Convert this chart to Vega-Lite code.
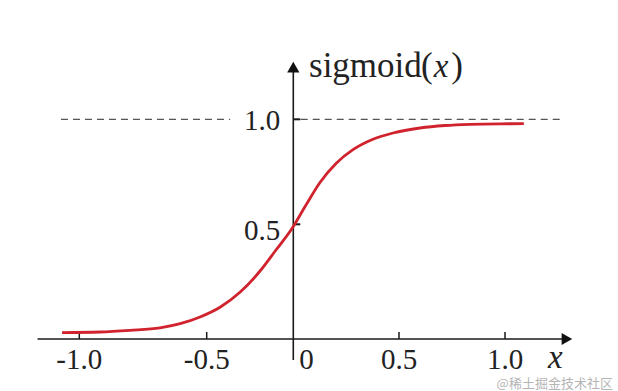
{
  "$schema": "https://vega.github.io/schema/vega-lite/v6.json",
  "width": 618,
  "height": 391,
  "autosize": {"type": "none"},
  "padding": 0,
  "background": "white",
  "config": {"view": {"stroke": null}},
  "datasets": {
    "curve": [
      {"x": -1.068, "y": 0.0279},
      {"x": -0.919, "y": 0.0305},
      {"x": -0.801, "y": 0.0379},
      {"x": -0.683, "y": 0.0488},
      {"x": -0.604, "y": 0.0667},
      {"x": -0.526, "y": 0.0959},
      {"x": -0.423, "y": 0.1382},
      {"x": -0.308, "y": 0.2036},
      {"x": -0.192, "y": 0.2964},
      {"x": -0.1, "y": 0.388},
      {"x": -0.0075, "y": 0.4817},
      {"x": 0.06, "y": 0.592},
      {"x": 0.1263, "y": 0.699},
      {"x": 0.202, "y": 0.7895},
      {"x": 0.2824, "y": 0.8552},
      {"x": 0.377, "y": 0.9048},
      {"x": 0.4716, "y": 0.9348},
      {"x": 0.599, "y": 0.9586},
      {"x": 0.717, "y": 0.9705},
      {"x": 0.835, "y": 0.9762},
      {"x": 0.976, "y": 0.9786},
      {"x": 1.089, "y": 0.979}
    ],
    "dashed": [
      {"x1": -1.072, "x2": -0.365, "y": 1},
      {"x1": 0.035, "x2": 1.274, "y": 1}
    ],
    "axes": [
      {"x1": -1.164, "x2": 1.292, "y1": 0, "y2": 0},
      {"x1": 0, "x2": 0, "y1": -0.0915, "y2": 1.2486}
    ],
    "arrows": [
      {"x": 1.292, "y": 0, "dir": "right"},
      {"x": 0, "y": 1.2486, "dir": "up"}
    ],
    "xticks": [{"v": -1}, {"v": -0.5}, {"v": 0.5}, {"v": 1}],
    "yticks": [{"v": 0.5}, {"v": 1}],
    "xlabels": [
      {"v": -1, "label": "-1.0"},
      {"v": -0.5, "label": "-0.5"},
      {"v": 0.5, "label": "0.5"},
      {"v": 1, "label": "1.0"}
    ],
    "zerolabel": [{"v": 0, "label": "0"}],
    "ylabel1": [{"v": 1, "label": "1.0"}],
    "ylabel05": [{"v": 0.5, "label": "0.5"}],
    "roman": [
      {"x": 0.0743, "y": 1.2, "t": "sigmoid"},
      {"x": 0.604, "y": 1.2, "t": "("},
      {"x": 0.746, "y": 1.2, "t": ")"}
    ],
    "italic": [
      {"x": 0.664, "y": 1.2, "t": "x"},
      {"x": 1.203, "y": -0.128, "t": "x"}
    ],
    "watermark": [{"x": 1.509, "y": -0.2136, "t": "@稀土掘金技术社区"}]
  },
  "layer": [
    {
      "data": {"name": "dashed"},
      "mark": {"type": "rule", "color": "#555555", "strokeWidth": 1.3, "strokeDash": [7, 5]},
      "encoding": {
        "x": {"field": "x1", "type": "quantitative", "scale": {"domain": [-1, -0.5, 0, 0.5, 1], "range": [79.3, 206.7, 293.3, 399, 505], "zero": false, "nice": false}, "axis": null},
        "x2": {"field": "x2"},
        "y": {"field": "y", "type": "quantitative", "scale": {"domain": [0, 0.5, 1], "range": [339, 224.3, 119.3], "zero": false, "nice": false}, "axis": null}
      }
    },
    {
      "data": {"name": "axes"},
      "mark": {"type": "rule", "color": "#1a1a1a", "strokeWidth": 1.6},
      "encoding": {
        "x": {"field": "x1", "type": "quantitative", "scale": {"domain": [-1, -0.5, 0, 0.5, 1], "range": [79.3, 206.7, 293.3, 399, 505], "zero": false, "nice": false}, "axis": null},
        "x2": {"field": "x2"},
        "y": {"field": "y1", "type": "quantitative", "scale": {"domain": [0, 0.5, 1], "range": [339, 224.3, 119.3], "zero": false, "nice": false}, "axis": null},
        "y2": {"field": "y2"}
      }
    },
    {
      "data": {"name": "arrows"},
      "mark": {"type": "point", "filled": true, "color": "#111111", "opacity": 1, "size": 150},
      "encoding": {
        "x": {"field": "x", "type": "quantitative", "scale": {"domain": [-1, -0.5, 0, 0.5, 1], "range": [79.3, 206.7, 293.3, 399, 505], "zero": false, "nice": false}, "axis": null},
        "y": {"field": "y", "type": "quantitative", "scale": {"domain": [0, 0.5, 1], "range": [339, 224.3, 119.3], "zero": false, "nice": false}, "axis": null},
        "shape": {"field": "dir", "type": "nominal", "scale": {"domain": ["right", "up"], "range": ["triangle-right", "triangle-up"]}, "legend": null}
      }
    },
    {
      "data": {"name": "xticks"},
      "mark": {"type": "tick", "orient": "vertical", "size": 7, "thickness": 1.5, "color": "#1a1a1a", "opacity": 1, "yOffset": -3.5},
      "encoding": {
        "x": {"field": "v", "type": "quantitative", "scale": {"domain": [-1, -0.5, 0, 0.5, 1], "range": [79.3, 206.7, 293.3, 399, 505], "zero": false, "nice": false}, "axis": null},
        "y": {"datum": 0, "type": "quantitative", "scale": {"domain": [0, 0.5, 1], "range": [339, 224.3, 119.3], "zero": false, "nice": false}, "axis": null}
      }
    },
    {
      "data": {"name": "yticks"},
      "mark": {"type": "tick", "orient": "horizontal", "size": 7, "thickness": 2, "color": "#1a1a1a", "opacity": 1, "xOffset": 3.5},
      "encoding": {
        "x": {"datum": 0, "type": "quantitative", "scale": {"domain": [-1, -0.5, 0, 0.5, 1], "range": [79.3, 206.7, 293.3, 399, 505], "zero": false, "nice": false}, "axis": null},
        "y": {"field": "v", "type": "quantitative", "scale": {"domain": [0, 0.5, 1], "range": [339, 224.3, 119.3], "zero": false, "nice": false}, "axis": null}
      }
    },
    {
      "data": {"name": "curve"},
      "mark": {"type": "line", "color": "#d1232d", "strokeWidth": 2.8, "interpolate": "monotone"},
      "encoding": {
        "x": {"field": "x", "type": "quantitative", "scale": {"domain": [-1, -0.5, 0, 0.5, 1], "range": [79.3, 206.7, 293.3, 399, 505], "zero": false, "nice": false}, "axis": null},
        "y": {"field": "y", "type": "quantitative", "scale": {"domain": [0, 0.5, 1], "range": [339, 224.3, 119.3], "zero": false, "nice": false}, "axis": null}
      }
    },
    {
      "data": {"name": "xlabels"},
      "mark": {"type": "text", "font": "Liberation Serif", "fontSize": 29, "color": "#222222", "align": "center", "baseline": "alphabetic", "dy": 30},
      "encoding": {
        "x": {"field": "v", "type": "quantitative", "scale": {"domain": [-1, -0.5, 0, 0.5, 1], "range": [79.3, 206.7, 293.3, 399, 505], "zero": false, "nice": false}, "axis": null},
        "y": {"datum": 0, "type": "quantitative", "scale": {"domain": [0, 0.5, 1], "range": [339, 224.3, 119.3], "zero": false, "nice": false}, "axis": null},
        "text": {"field": "label"}
      }
    },
    {
      "data": {"name": "zerolabel"},
      "mark": {"type": "text", "font": "Liberation Serif", "fontSize": 29, "color": "#222222", "align": "left", "baseline": "alphabetic", "dy": 30, "dx": 6},
      "encoding": {
        "x": {"field": "v", "type": "quantitative", "scale": {"domain": [-1, -0.5, 0, 0.5, 1], "range": [79.3, 206.7, 293.3, 399, 505], "zero": false, "nice": false}, "axis": null},
        "y": {"datum": 0, "type": "quantitative", "scale": {"domain": [0, 0.5, 1], "range": [339, 224.3, 119.3], "zero": false, "nice": false}, "axis": null},
        "text": {"field": "label"}
      }
    },
    {
      "data": {"name": "ylabel1"},
      "mark": {"type": "text", "font": "Liberation Serif", "fontSize": 29, "color": "#222222", "align": "right", "baseline": "alphabetic", "dx": -13, "dy": 11},
      "encoding": {
        "x": {"datum": 0, "type": "quantitative", "scale": {"domain": [-1, -0.5, 0, 0.5, 1], "range": [79.3, 206.7, 293.3, 399, 505], "zero": false, "nice": false}, "axis": null},
        "y": {"field": "v", "type": "quantitative", "scale": {"domain": [0, 0.5, 1], "range": [339, 224.3, 119.3], "zero": false, "nice": false}, "axis": null},
        "text": {"field": "label"}
      }
    },
    {
      "data": {"name": "ylabel05"},
      "mark": {"type": "text", "font": "Liberation Serif", "fontSize": 29, "color": "#222222", "align": "right", "baseline": "alphabetic", "dx": -13, "dy": 16},
      "encoding": {
        "x": {"datum": 0, "type": "quantitative", "scale": {"domain": [-1, -0.5, 0, 0.5, 1], "range": [79.3, 206.7, 293.3, 399, 505], "zero": false, "nice": false}, "axis": null},
        "y": {"field": "v", "type": "quantitative", "scale": {"domain": [0, 0.5, 1], "range": [339, 224.3, 119.3], "zero": false, "nice": false}, "axis": null},
        "text": {"field": "label"}
      }
    },
    {
      "data": {"name": "roman"},
      "mark": {"type": "text", "font": "Liberation Serif", "fontSize": 35, "color": "#222222", "align": "left", "baseline": "alphabetic"},
      "encoding": {
        "x": {"field": "x", "type": "quantitative", "scale": {"domain": [-1, -0.5, 0, 0.5, 1], "range": [79.3, 206.7, 293.3, 399, 505], "zero": false, "nice": false}, "axis": null},
        "y": {"field": "y", "type": "quantitative", "scale": {"domain": [0, 0.5, 1], "range": [339, 224.3, 119.3], "zero": false, "nice": false}, "axis": null},
        "text": {"field": "t"}
      }
    },
    {
      "data": {"name": "italic"},
      "mark": {"type": "text", "font": "Liberation Serif", "fontStyle": "italic", "fontSize": 33, "color": "#222222", "align": "left", "baseline": "alphabetic"},
      "encoding": {
        "x": {"field": "x", "type": "quantitative", "scale": {"domain": [-1, -0.5, 0, 0.5, 1], "range": [79.3, 206.7, 293.3, 399, 505], "zero": false, "nice": false}, "axis": null},
        "y": {"field": "y", "type": "quantitative", "scale": {"domain": [0, 0.5, 1], "range": [339, 224.3, 119.3], "zero": false, "nice": false}, "axis": null},
        "text": {"field": "t"}
      }
    },
    {
      "data": {"name": "watermark"},
      "mark": {"type": "text", "font": "Noto Sans CJK SC", "fontSize": 13, "color": "#b5b5b5", "align": "right", "baseline": "alphabetic"},
      "encoding": {
        "x": {"field": "x", "type": "quantitative", "scale": {"domain": [-1, -0.5, 0, 0.5, 1], "range": [79.3, 206.7, 293.3, 399, 505], "zero": false, "nice": false}, "axis": null},
        "y": {"field": "y", "type": "quantitative", "scale": {"domain": [0, 0.5, 1], "range": [339, 224.3, 119.3], "zero": false, "nice": false}, "axis": null},
        "text": {"field": "t"}
      }
    }
  ]
}
